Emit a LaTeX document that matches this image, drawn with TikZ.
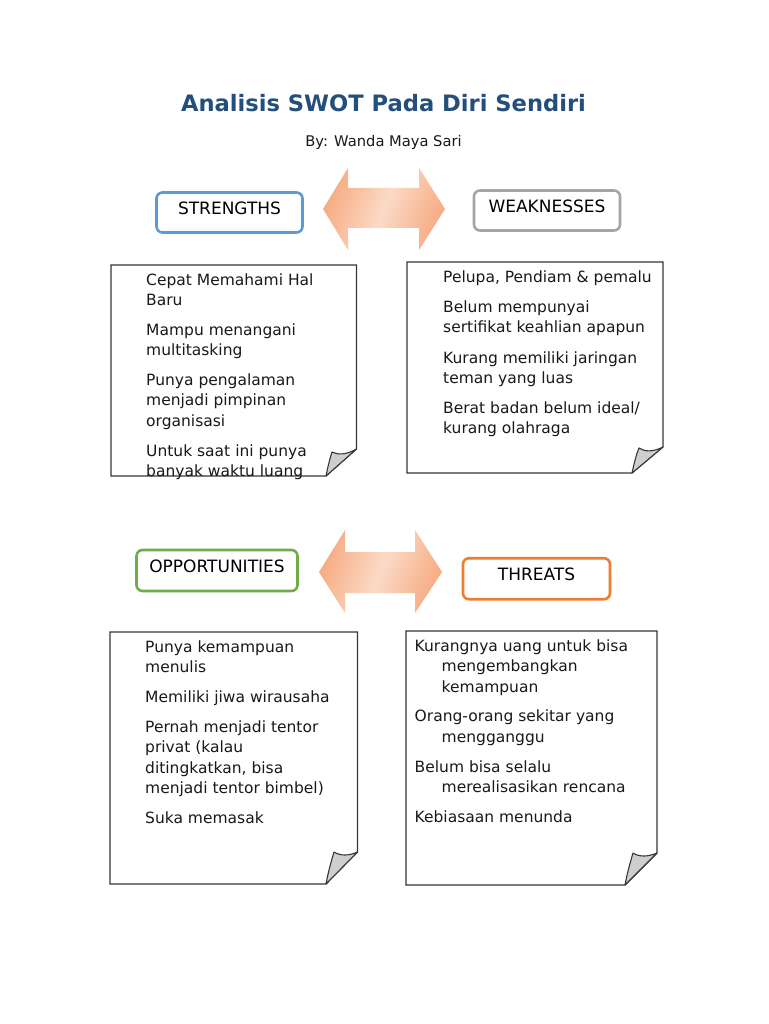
\documentclass[tikz,border=0pt]{standalone}
\usepackage{fontspec}
\setmainfont{DejaVu Sans}
\definecolor{titleblue}{RGB}{36,79,125}
\definecolor{sblue}{RGB}{91,155,213}
\definecolor{wgray}{RGB}{165,165,165}
\definecolor{ogreen}{RGB}{112,173,71}
\definecolor{torange}{RGB}{237,125,49}
\definecolor{peach}{RGB}{246,172,132}
\definecolor{peachlight}{RGB}{251,218,198}
\definecolor{foldgray}{RGB}{206,206,206}
\definecolor{noteline}{RGB}{55,55,55}
\definecolor{textgray}{RGB}{25,25,25}
\tikzset{
  hdr/.style={draw, line width=2.6pt, rounded corners=6pt, fill=white,
    font=\fontsize{17}{20}\selectfont, text height=12.4pt, text depth=8.4pt, inner sep=0pt},
  ln/.style={anchor=base west, inner sep=0pt, text=textgray, font=\fontsize{15.5}{18}\selectfont},
  notebox/.style={draw=noteline, line width=1.1pt, fill=white, line join=miter},
  flap/.style={draw=noteline, line width=1.1pt, fill=foldgray, line join=round},
  bigarrow/.style={top color=peach, bottom color=peach, middle color=peachlight, shading angle=70},
}
\begin{document}
\begin{tikzpicture}[x=1pt,y=-1pt]
\useasboundingbox (0,0) rectangle (768,1024);
\fill[white] (0,0) rectangle (768,1024);

% title
\node[anchor=base, inner sep=0pt, text=titleblue, font=\bfseries\fontsize{22.6}{26}\selectfont] (title) at (383.5,111.7) {Analisis SWOT Pada Diri Sendiri};
\node[anchor=base, inner sep=0pt, text=textgray, font=\fontsize{14.7}{17}\selectfont] (by) at (383.5,146.8) {By: Wanda Maya Sari};

% double arrows
\shade[bigarrow] (323,209) -- (348,168) -- (348,188) -- (419,188) -- (419,168) -- (445,209)
  -- (419,250) -- (419,228) -- (348,228) -- (348,250) -- cycle;
\shade[bigarrow] (319,572) -- (345,530) -- (345,552) -- (415,552) -- (415,530) -- (442,572)
  -- (415,613) -- (415,593) -- (345,593) -- (345,613) -- cycle;

% headers
\node[hdr, draw=sblue, minimum width=146pt, minimum height=40pt] (hs) at (229.5,212.5) {STRENGTHS};
\node[hdr, draw=wgray, minimum width=146pt, minimum height=40pt] (hw) at (547,210.5) {WEAKNESSES};
\node[hdr, draw=ogreen, minimum width=161pt, minimum height=41pt] (ho) at (217,570.5) {OPPORTUNITIES};
\node[hdr, draw=torange, minimum width=147pt, minimum height=41pt] (ht) at (536.5,578.7) {THREATS};

% note S
\draw[notebox] (111,265) -- (356.5,265) -- (356.5,449) -- (326,476) -- (111,476) -- cycle;
\draw[flap] (356.5,449) -- (326,476) .. controls (328,466) and (330,458) .. (332,452)
  .. controls (338,455) and (346,455) .. cycle;
% note W
\draw[notebox] (407,262) -- (663,262) -- (663,447) -- (632,473) -- (407,473) -- cycle;
\draw[flap] (663,447) -- (632,473) .. controls (634,464) and (636,455) .. (639,448)
  .. controls (645,452) and (653,452) .. cycle;
% note O
\draw[notebox] (110,632) -- (357.5,632) -- (357.5,852) -- (326,884) -- (110,884) -- cycle;
\draw[flap] (357.5,852) -- (326,884) .. controls (328,873) and (331,862) .. (334,852)
  .. controls (340,856) and (349,856) .. cycle;
% note T
\draw[notebox] (406,631) -- (657,631) -- (657,853) -- (625,885) -- (406,885) -- cycle;
\draw[flap] (657,853) -- (625,885) .. controls (627,874) and (630,863) .. (633,853)
  .. controls (639,857) and (648,857) .. cycle;

% S texts
\node[ln] (s1) at (146,285) {Cepat Memahami Hal};
\node[ln] (s2) at (146,305.3) {Baru};
\node[ln] (s3) at (146,335) {Mampu menangani};
\node[ln] (s4) at (146,355.3) {multitasking};
\node[ln] (s5) at (146,385.6) {Punya pengalaman};
\node[ln] (s6) at (146,405.9) {menjadi pimpinan};
\node[ln] (s7) at (146,426.2) {organisasi};
\node[ln] (s8) at (146,456.5) {Untuk saat ini punya};
\node[ln] (s9) at (146,476.8) {banyak waktu luang};

% W texts
\node[ln] (w1) at (443,282.5) {Pelupa, Pendiam \& pemalu};
\node[ln] (w2) at (443,312.5) {Belum mempunyai};
\node[ln] (w3) at (443,332.8) {sertifikat keahlian apapun};
\node[ln] (w4) at (443,363) {Kurang memiliki jaringan};
\node[ln] (w5) at (443,383.3) {teman yang luas};
\node[ln] (w6) at (443,413.5) {Berat badan belum ideal/};
\node[ln] (w7) at (443,433.8) {kurang olahraga};

% O texts
\node[ln] (o1) at (145,652) {Punya kemampuan};
\node[ln] (o2) at (145,672.3) {menulis};
\node[ln] (o3) at (145,702.3) {Memiliki jiwa wirausaha};
\node[ln] (o4) at (145,732.5) {Pernah menjadi tentor};
\node[ln] (o5) at (145,752.8) {privat (kalau};
\node[ln] (o6) at (145,773.1) {ditingkatkan, bisa};
\node[ln] (o7) at (145,793.4) {menjadi tentor bimbel)};
\node[ln] (o8) at (145,823.4) {Suka memasak};

% T texts
\node[ln] (t1) at (414.5,651.5) {Kurangnya uang untuk bisa};
\node[ln] (t2) at (441.5,671.8) {mengembangkan};
\node[ln] (t3) at (441.5,692.1) {kemampuan};
\node[ln] (t4) at (414.5,721.8) {Orang-orang sekitar yang};
\node[ln] (t5) at (441.5,742.1) {mengganggu};
\node[ln] (t6) at (414.5,772) {Belum bisa selalu};
\node[ln] (t7) at (441.5,792.3) {merealisasikan rencana};
\node[ln] (t8) at (414.5,822.3) {Kebiasaan menunda};
\end{tikzpicture}
\end{document}
